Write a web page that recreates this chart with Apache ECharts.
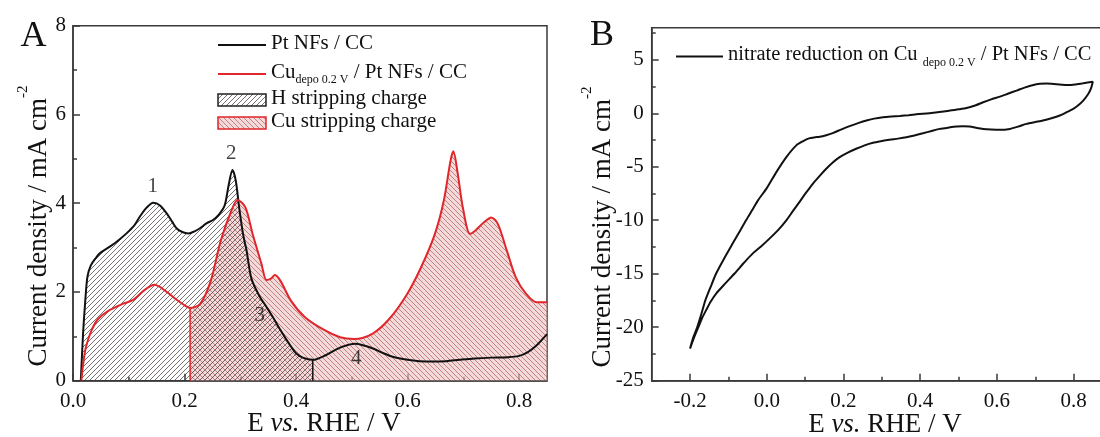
<!DOCTYPE html>
<html><head><meta charset="utf-8">
<script src="https://cdn.jsdelivr.net/npm/echarts@6/dist/echarts.min.js"></script>
<style>html,body{margin:0;padding:0;background:#fff}#c{width:1100px;height:437px}</style>
</head><body><div id="c"></div>
<script>
// ---------- Panel A data ----------
const ptE = [0.014,0.018,0.022,0.026,0.032,0.040,0.048,0.066,0.080,0.096,0.110,0.120,0.132,0.144,0.156,0.168,0.178,0.186,0.196,0.207,0.217,0.227,0.240,0.251,0.262,0.272,0.279,0.286,0.292,0.298,0.305,0.311,0.320,0.335,0.345,0.358,0.370,0.383,0.392,0.400,0.412,0.430,0.454,0.470,0.484,0.505,0.520,0.537,0.555,0.573,0.600,0.621,0.645,0.669,0.693,0.720,0.750,0.780,0.800,0.815,0.830,0.850];
const ptJ = [0,1.05,1.8,2.35,2.6,2.75,2.87,3.02,3.15,3.32,3.50,3.70,3.90,4.01,3.95,3.77,3.58,3.43,3.35,3.32,3.36,3.43,3.55,3.62,3.75,3.95,4.40,4.75,4.50,3.90,3.30,2.95,2.30,1.89,1.70,1.44,1.18,0.92,0.75,0.62,0.52,0.47,0.58,0.69,0.77,0.83,0.80,0.73,0.63,0.54,0.47,0.44,0.43,0.44,0.47,0.50,0.52,0.53,0.56,0.64,0.78,1.05];
const cuE = [0.015,0.018,0.023,0.033,0.045,0.064,0.089,0.108,0.127,0.146,0.165,0.184,0.200,0.210,0.228,0.247,0.265,0.284,0.295,0.309,0.322,0.338,0.347,0.355,0.362,0.372,0.391,0.416,0.448,0.479,0.504,0.536,0.567,0.599,0.624,0.649,0.665,0.677,0.682,0.690,0.699,0.712,0.721,0.737,0.750,0.762,0.778,0.794,0.813,0.831,0.850];
const cuJ = [0,0.35,0.75,1.13,1.39,1.58,1.73,1.82,2.03,2.16,2.03,1.84,1.70,1.64,1.73,2.25,3.16,3.83,4.07,3.91,3.31,2.63,2.27,2.30,2.38,2.25,1.80,1.43,1.16,0.98,0.94,1.05,1.39,1.95,2.55,3.31,4.06,4.96,5.17,4.66,3.91,3.31,3.38,3.57,3.68,3.53,2.93,2.33,1.95,1.77,1.77];
const hEnd = 0.43;      // end of H stripping region
const cuStart = 0.21;   // start of Cu stripping region
const notes = [[0.143,4.37,'1'],[0.284,5.11,'2'],[0.335,1.48,'3'],[0.508,0.51,'4']];
const xTicksA = [0,0.2,0.4,0.6,0.8];
const xMinorA = [0.1,0.3,0.5,0.7];
// ---------- Panel B data (forward scan, then reverse scan) ----------
const cvE = [-0.200,-0.192,-0.181,-0.170,-0.160,-0.146,-0.132,-0.110,-0.089,-0.070,-0.054,-0.037,-0.023,0.000,0.025,0.051,0.077,0.095,0.110,0.125,0.138,0.155,0.172,0.195,0.216,0.240,0.260,0.280,0.303,0.325,0.347,0.370,0.390,0.434,0.477,0.500,0.521,0.545,0.564,0.585,0.608,0.630,0.651,0.672,0.695,0.712,0.729,0.755,0.782,0.805,0.825,0.850,
  0.845,0.838,0.825,0.812,0.799,0.782,0.764,0.742,0.720,0.700,0.677,0.655,0.634,0.608,0.585,0.564,0.545,0.529,0.512,0.495,0.475,0.451,0.430,0.407,0.385,0.364,0.342,0.320,0.300,0.277,0.255,0.233,0.210,0.190,0.172,0.155,0.138,0.120,0.103,0.085,0.068,0.051,0.030,0.007,-0.015,-0.037,-0.060,-0.084,-0.108,-0.132,-0.146,-0.158,-0.168,-0.178,-0.190,-0.200];
const cvJ = [-22.0,-21.0,-19.96,-18.7,-17.47,-16.2,-14.98,-13.5,-12.18,-11.0,-10.0,-9.0,-8.14,-7.0,-5.5,-4.1,-3.0,-2.6,-2.35,-2.25,-2.2,-2.05,-1.85,-1.5,-1.2,-0.9,-0.68,-0.5,-0.37,-0.3,-0.25,-0.18,-0.1,0.05,0.25,0.37,0.50,0.75,1.03,1.3,1.56,1.85,2.12,2.4,2.65,2.75,2.78,2.72,2.65,2.7,2.8,2.95,
  2.3,1.8,1.19,0.75,0.41,0.1,-0.21,-0.47,-0.68,-0.82,-0.99,-1.25,-1.46,-1.55,-1.52,-1.46,-1.35,-1.24,-1.22,-1.24,-1.33,-1.46,-1.65,-1.87,-2.07,-2.24,-2.37,-2.48,-2.6,-2.76,-3.0,-3.32,-3.7,-4.10,-4.6,-5.19,-5.85,-6.59,-7.4,-8.3,-9.15,-10.01,-10.9,-11.72,-12.45,-13.12,-14.0,-14.98,-15.9,-16.85,-17.6,-18.4,-19.1,-19.96,-21.0,-22.0];
const xTicksB = [-0.2,0,0.2,0.4,0.6,0.8];
const xMinorB = [-0.1,0.1,0.3,0.5,0.7];
const yTicksB = [-25,-20,-15,-10,-5,0,5];
const yMinorB = [-22.5,-17.5,-12.5,-7.5,-2.5,2.5,7.5];

const FF = "'Liberation Serif','Times New Roman',serif";
const AX = '#3a3a3a';
const RED = '#e0262a';
const nPt = 'Pt NFs / CC';
const nCu = 'Cu depo 0.2 V / Pt NFs / CC';
const nH = 'H stripping charge';
const nCS = 'Cu stripping charge';
const nNit = 'nitrate reduction on Cu depo 0.2 V / Pt NFs / CC';

function hatch(size, dir, lineColor, bg, lw) {
  const c = document.createElement('canvas'); c.width = c.height = size;
  const g = c.getContext('2d');
  if (bg) { g.fillStyle = bg; g.fillRect(0, 0, size, size); }
  g.strokeStyle = lineColor; g.lineWidth = lw;
  g.beginPath();
  if (dir > 0) {
    g.moveTo(-1, size + 1); g.lineTo(size + 1, -1);
    g.moveTo(-1, 1); g.lineTo(1, -1);
    g.moveTo(size - 1, size + 1); g.lineTo(size + 1, size - 1);
  } else {
    g.moveTo(-1, -1); g.lineTo(size + 1, size + 1);
    g.moveTo(size - 1, -1); g.lineTo(size + 1, 1);
    g.moveTo(-1, size - 1); g.lineTo(1, size + 1);
  }
  g.stroke();
  return { image: c, repeat: 'repeat' };
}
const hPat = hatch(5, 1, 'rgba(55,45,45,0.68)', null, 1);
const cuPat = hatch(5, -1, 'rgba(175,80,80,0.65)', 'rgba(236,196,196,0.62)', 1);

const ptData = ptE.map((e, i) => [e, ptJ[i]]);
const cuData = cuE.map((e, i) => [e, cuJ[i]]);
const hFill = ptData.filter(p => p[0] <= hEnd + 1e-9);
const cuFill = cuData.filter(p => p[0] >= cuStart - 1e-9);
const hEdge = [[hEnd, 0], [hEnd, ptJ[ptE.indexOf(hEnd)]]];
const cuEdge = [[cuStart, 0], [cuStart, cuJ[cuE.indexOf(cuStart)]]];
const cvData = cvE.map((e, i) => [e, cvJ[i]]);

const lblStyle = { fontFamily: FF, fontSize: 21, color: '#111' };
const tickLine = { color: AX, width: 1.5 };
function mainX(grid, min, max, ticks) {
  return { gridIndex: grid, type: 'value', min: min, max: max, position: 'bottom',
    axisLine: { show: true, onZero: false, lineStyle: { color: AX, width: 1.5 } },
    axisTick: { show: true, inside: true, length: 7, customValues: ticks, lineStyle: tickLine },
    axisLabel: Object.assign({ customValues: ticks, margin: 10, formatter: v => v.toFixed(1) }, lblStyle),
    splitLine: { show: false } };
}
function minorAxis(grid, min, max, ticks, pos) {
  return { gridIndex: grid, type: 'value', min: min, max: max, position: pos,
    axisLine: { show: false, onZero: false },
    axisTick: { show: true, inside: true, length: 4, customValues: ticks, lineStyle: tickLine },
    axisLabel: { show: false }, splitLine: { show: false } };
}
function richFor(fs) {
  return {
    t: { fontFamily: FF, fontSize: fs, color: '#111', lineHeight: 24, verticalAlign: 'top' },
    s: { fontFamily: FF, fontSize: 12, color: '#111', lineHeight: 12, verticalAlign: 'bottom', padding: [18, 0, 0, 0] }
  };
}

const chart = echarts.init(document.getElementById('c'), null, { renderer: 'canvas' });
chart.setOption({
  animation: false,
  backgroundColor: '#fff',
  grid: [
    { left: 73, top: 25.7, width: 474, height: 355, show: true, borderColor: AX, borderWidth: 1.5, containLabel: false, outerBoundsMode: 'none' },
    { left: 651.7, top: 27.7, width: 460.3, height: 353, show: true, borderColor: AX, borderWidth: 1.5, containLabel: false, outerBoundsMode: 'none' }
  ],
  xAxis: [
    mainX(0, 0, 0.85, xTicksA),
    minorAxis(0, 0, 0.85, xMinorA, 'bottom'),
    mainX(1, -0.3, 0.9, xTicksB),
    minorAxis(1, -0.3, 0.9, xMinorB, 'bottom')
  ],
  yAxis: [
    { gridIndex: 0, type: 'value', min: 0, max: 8, interval: 2, position: 'left',
      axisLine: { show: true, onZero: false, lineStyle: { color: AX, width: 1.5 } },
      axisTick: { show: true, inside: true, length: 7, lineStyle: tickLine },
      minorTick: { show: true, splitNumber: 2, length: 4, lineStyle: tickLine },
      axisLabel: Object.assign({ margin: 7 }, lblStyle), splitLine: { show: false } },
    { gridIndex: 1, type: 'value', min: -25, max: 8, position: 'left',
      axisLine: { show: true, onZero: false, lineStyle: { color: AX, width: 1.5 } },
      axisTick: { show: true, inside: true, length: 7, customValues: yTicksB, lineStyle: tickLine },
      axisLabel: Object.assign({ margin: 8, customValues: yTicksB }, lblStyle), splitLine: { show: false } },
    minorAxis(1, -25, 8, yMinorB, 'left')
  ],
  legend: [
    { orient: 'vertical', left: 217, top: 33, padding: 0, itemWidth: 48, itemHeight: 12, itemGap: 2,
      selectedMode: false,
      data: [
        { name: nPt, itemStyle: { opacity: 0 } },
        { name: nCu, itemStyle: { opacity: 0 } },
        { name: nH, icon: 'rect', itemStyle: { color: hPat, borderColor: '#222', borderWidth: 1.5 } },
        { name: nCS, icon: 'rect', itemStyle: { color: cuPat, borderColor: RED, borderWidth: 1.5 } }
      ],
      formatter: n => n === nCu ? '{t|Cu}{s|depo 0.2 V}{t| / Pt NFs / CC}' : '{t|' + n + '}',
      textStyle: { fontFamily: FF, fontSize: 21, color: '#111', rich: richFor(21) } },
    { orient: 'vertical', left: 675, top: 38.5, padding: 0, itemWidth: 47, itemHeight: 12,
      selectedMode: false,
      data: [{ name: nNit, itemStyle: { opacity: 0 } }],
      formatter: () => '{t|nitrate reduction on Cu }{s|depo 0.2 V}{t| / Pt NFs / CC}',
      textStyle: { fontFamily: FF, fontSize: 20.5, color: '#111', rich: richFor(20.5) } }
  ],
  series: [
    { name: nCS, type: 'line', xAxisIndex: 0, yAxisIndex: 0, data: cuFill, smooth: 0.3, symbol: 'none', z: 1,
      itemStyle: { color: cuPat }, lineStyle: { width: 0, opacity: 0 }, areaStyle: { color: cuPat, opacity: 1 } },
    { name: nH, type: 'line', xAxisIndex: 0, yAxisIndex: 0, data: hFill, smooth: 0.3, symbol: 'none', z: 2,
      itemStyle: { color: hPat }, lineStyle: { width: 0, opacity: 0 }, areaStyle: { color: hPat, opacity: 1 } },
    { name: nPt, type: 'line', xAxisIndex: 0, yAxisIndex: 0, data: ptData, smooth: 0.3, symbol: 'none', z: 3,
      itemStyle: { color: '#111' }, lineStyle: { color: '#111', width: 2 } },
    { name: nCu, type: 'line', xAxisIndex: 0, yAxisIndex: 0, data: cuData, smooth: 0.3, symbol: 'none', z: 3,
      itemStyle: { color: RED }, lineStyle: { color: RED, width: 2 } },
    { name: 'edgeH', type: 'line', xAxisIndex: 0, yAxisIndex: 0, data: hEdge, symbol: 'none', z: 3,
      lineStyle: { color: '#111', width: 1.5 } },
    { name: 'edgeCu', type: 'line', xAxisIndex: 0, yAxisIndex: 0, data: cuEdge, symbol: 'none', z: 3,
      lineStyle: { color: RED, width: 1.5 } },
    { name: 'notes', type: 'scatter', xAxisIndex: 0, yAxisIndex: 0, data: notes, symbolSize: 1, z: 4,
      itemStyle: { color: 'rgba(0,0,0,0)' },
      label: { show: true, position: 'inside', formatter: p => p.value[2], fontFamily: FF, fontSize: 21, color: '#111' } },
    { name: nNit, type: 'line', xAxisIndex: 2, yAxisIndex: 1, data: cvData, smooth: 0.25, symbol: 'none', z: 3,
      itemStyle: { color: '#111' }, lineStyle: { color: '#111', width: 2 } }
  ],
  graphic: [
    { type: 'text', x: 33.5, y: 36.5, style: { text: 'A', fontFamily: FF, fontSize: 36, fill: '#111', align: 'center', verticalAlign: 'middle', textAlign: 'center', textVerticalAlign: 'middle' } },
    { type: 'text', x: 602, y: 36, style: { text: 'B', fontFamily: FF, fontSize: 36, fill: '#111', align: 'center', verticalAlign: 'middle', textAlign: 'center', textVerticalAlign: 'middle' } },
    { type: 'text', x: 324, y: 424, style: { text: '{r|E }{i|vs.}{r| RHE / V}', align: 'center', verticalAlign: 'middle', textAlign: 'center', textVerticalAlign: 'middle',
      rich: { r: { fontFamily: FF, fontSize: 27, fill: '#111' }, i: { fontFamily: FF, fontSize: 27, fontStyle: 'italic', fill: '#111' } } } },
    { type: 'text', x: 885, y: 425, style: { text: '{r|E }{i|vs.}{r| RHE / V}', align: 'center', verticalAlign: 'middle', textAlign: 'center', textVerticalAlign: 'middle',
      rich: { r: { fontFamily: FF, fontSize: 27, fill: '#111' }, i: { fontFamily: FF, fontSize: 27, fontStyle: 'italic', fill: '#111' } } } },
    { type: 'text', x: 34, y: 226, rotation: Math.PI / 2, style: { text: '{r|Current density / mA cm}{p|-2}', align: 'center', verticalAlign: 'middle', textAlign: 'center', textVerticalAlign: 'middle',
      rich: { r: { fontFamily: FF, fontSize: 27, fill: '#111', lineHeight: 36, verticalAlign: 'bottom' }, p: { fontFamily: FF, fontSize: 15, fill: '#111', lineHeight: 15, verticalAlign: 'top' } } } },
    { type: 'text', x: 598, y: 227, rotation: Math.PI / 2, style: { text: '{r|Current density / mA cm}{p|-2}', align: 'center', verticalAlign: 'middle', textAlign: 'center', textVerticalAlign: 'middle',
      rich: { r: { fontFamily: FF, fontSize: 27, fill: '#111', lineHeight: 36, verticalAlign: 'bottom' }, p: { fontFamily: FF, fontSize: 15, fill: '#111', lineHeight: 15, verticalAlign: 'top' } } } }
  ]
});
</script>
</body></html>
